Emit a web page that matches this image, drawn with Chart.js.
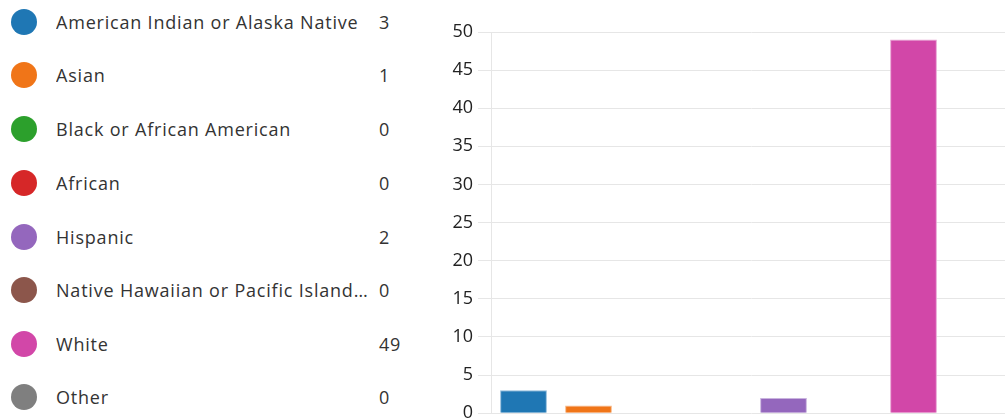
<!DOCTYPE html>
<html>
<head>
<meta charset="utf-8">
<script src="https://cdn.jsdelivr.net/npm/chart.js@4/dist/chart.umd.min.js"></script>
<style>
  html, body { margin: 0; padding: 0; background: #fff; overflow: hidden; width: 1005px; height: 419px; }
  #legend { position: absolute; left: 0; top: 0; width: 420px; height: 419px; font-family: "Open Sans", sans-serif; font-size: 18px; color: #333; letter-spacing: 0.8px; }
  .row { position: absolute; left: 0; height: 30px; width: 420px; }
  .dot { position: absolute; left: 11px; top: 2px; width: 26px; height: 26px; border-radius: 50%; }
  .lab { position: absolute; left: 56px; top: 2px; width: 312px; white-space: nowrap; overflow: hidden; text-overflow: ellipsis; line-height: 26px; }
  .val { position: absolute; left: 379px; top: 2px; line-height: 26px; }
  #wrap { position: absolute; left: 420px; top: 0; width: 591px; height: 429px; }
</style>
</head>
<body>
<div id="legend"></div>
<div id="wrap"><canvas id="c"></canvas></div>
<script>
const categories = ["American Indian or Alaska Native", "Asian", "Black or African American", "African", "Hispanic", "Native Hawaiian or Pacific Islander", "White", "Other"];
const counts = [3, 1, 0, 0, 2, 0, 49, 0];
const colors = ["#1f77b4", "#f07518", "#2ca02c", "#d62728", "#9467bd", "#8c564b", "#d247a8", "#7f7f7f"];
const borderColors = ["#8fbbda", "#f7ba8b", "#95cf95", "#ea9393", "#c9b3de", "#c5aaa5", "#e8a3d3", "#bfbfbf"];
const yTicks = [0, 5, 10, 15, 20, 25, 30, 35, 40, 45, 50];

// legend list
const legend = document.getElementById('legend');
const rowTops = [7, 60, 114, 168, 222, 275, 329, 382];
categories.forEach((c, i) => {
  const r = document.createElement('div');
  r.className = 'row';
  r.style.top = (rowTops[i]) + 'px';
  r.innerHTML = '<div class="dot" style="background:' + colors[i] + '"></div>' +
    '<div class="lab"></div><div class="val"></div>';
  r.querySelector('.lab').textContent = c;
  r.querySelector('.val').textContent = counts[i];
  legend.appendChild(r);
});

new Chart(document.getElementById('c'), {
  type: 'bar',
  data: {
    labels: categories,
    datasets: [{
      data: counts,
      backgroundColor: colors,
      borderColor: borderColors,
      borderWidth: 1,
      barPercentage: 0.9,
      categoryPercentage: 0.8
    }]
  },
  options: {
    responsive: true,
    maintainAspectRatio: false,
    animation: false,
    layout: { padding: { top: 32, bottom: 6, left: 0, right: 0 } },
    plugins: { legend: { display: false }, tooltip: { enabled: false } },
    scales: {
      x: {
        display: false,
        grid: { display: false }
      },
      y: {
        min: 0, max: 50,
        afterBuildTicks: (s) => { s.ticks = yTicks.map(v => ({ value: v })); },
        afterFit: (s) => { s.width = 71; },
        ticks: { color: '#222', font: { family: '"Open Sans", sans-serif', size: 18 }, padding: 5 },
        grid: { color: '#e6e6e6', lineWidth: 1, tickLength: 13 },
        border: { color: '#e6e6e6', width: 1 }
      }
    }
  }
});
</script>
</body>
</html>
